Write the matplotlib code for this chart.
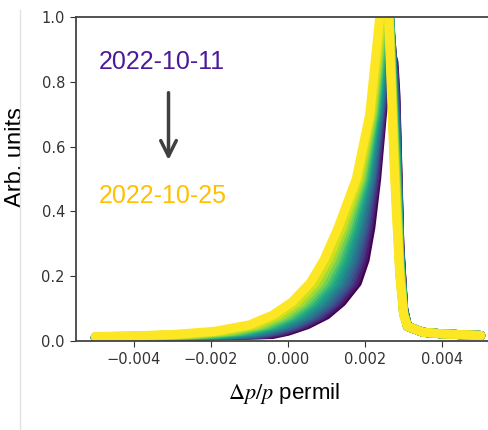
import matplotlib
matplotlib.use('Agg')
from matplotlib import pyplot as plt
from matplotlib.lines import Line2D

plt.rcParams['mathtext.fontset'] = 'stix'

dates = ['2022-10-11', '2022-10-12', '2022-10-13', '2022-10-14', '2022-10-15',
         '2022-10-16', '2022-10-17', '2022-10-18', '2022-10-19', '2022-10-20',
         '2022-10-21', '2022-10-22', '2022-10-23', '2022-10-24', '2022-10-25']

# left tail, dp/p positions and heights per day
tail_x = [-0.005, -0.004]
tail_5 = [0.009, 0.009, 0.010, 0.010, 0.010, 0.011, 0.011, 0.011, 0.012, 0.012, 0.012, 0.013, 0.013, 0.013, 0.014]
tail_4 = [0.010, 0.010, 0.011, 0.011, 0.011, 0.012, 0.012, 0.013, 0.013, 0.014, 0.014, 0.014, 0.015, 0.015, 0.016]

# rising edge: dp/p (units of 1e-5) where each profile crosses these heights
rise_levels = [0.02, 0.03, 0.05, 0.08, 0.12, 0.18, 0.25, 0.35, 0.5, 0.7, 0.85]
rise_1011 = [-40, 0, 50, 100, 140, 180, 200, 215, 230, 245, 260]
rise_1012 = [-56, -11, 41, 92, 132, 173, 194, 210, 227, 243, 258]
rise_1013 = [-71, -23, 32, 83, 124, 165, 187, 205, 224, 241, 256]
rise_1014 = [-87, -34, 23, 75, 117, 158, 181, 200, 220, 239, 254]
rise_1015 = [-102, -46, 14, 66, 109, 151, 174, 195, 217, 237, 252]
rise_1016 = [-121, -59, 4, 57, 100, 142, 167, 189, 214, 235, 249]
rise_1017 = [-139, -72, -7, 47, 91, 134, 159, 183, 210, 233, 247]
rise_1018 = [-157, -86, -18, 37, 82, 125, 152, 177, 206, 230, 244]
rise_1019 = [-175, -99, -28, 27, 72, 117, 144, 171, 202, 228, 242]
rise_1020 = [-193, -112, -39, 17, 63, 108, 137, 165, 199, 226, 239]
rise_1021 = [-212, -125, -49, 8, 54, 100, 129, 159, 195, 223, 237]
rise_1022 = [-230, -139, -60, -2, 45, 91, 122, 153, 191, 221, 234]
rise_1023 = [-251, -154, -72, -13, 35, 81, 113, 146, 187, 218, 232]
rise_1024 = [-274, -171, -85, -26, 23, 70, 104, 139, 182, 215, 229]
rise_1025 = [-300, -190, -100, -40, 10, 58, 93, 130, 177, 212, 225]

# peak position (1e-5) and height per day
peak_x = [270, 269, 268, 267, 266, 265, 264, 263, 262, 261, 260, 259, 258, 257, 255]
peak_y = [0.88, 0.90, 0.92, 0.94, 0.957, 0.979, 1.002, 1.024, 1.046, 1.069, 1.091, 1.114, 1.139, 1.168, 1.20]

# falling edge and right tail
fall_x = [0.00275, 0.0028, 0.0029, 0.003, 0.0031, 0.0035, 0.004, 0.005]
fall_a = [0.86, 0.841, 0.823, 0.804, 0.786, 0.764, 0.742, 0.72, 0.699, 0.677, 0.655, 0.634, 0.609, 0.581, 0.55]
fall_b = [0.76, 0.74, 0.719, 0.699, 0.678, 0.655, 0.631, 0.607, 0.583, 0.559, 0.536, 0.512, 0.485, 0.454, 0.42]
fall_c = [0.30, 0.294, 0.288, 0.282, 0.276, 0.269, 0.262, 0.255, 0.248, 0.241, 0.234, 0.227, 0.219, 0.21, 0.20]
fall_d = [0.10, 0.099, 0.098, 0.096, 0.095, 0.094, 0.092, 0.091, 0.09, 0.088, 0.087, 0.085, 0.084, 0.082, 0.08]
right_tail = [0.045, 0.027, 0.022, 0.017]

rises = [rise_1011, rise_1012, rise_1013, rise_1014, rise_1015, rise_1016,
         rise_1017, rise_1018, rise_1019, rise_1020, rise_1021, rise_1022,
         rise_1023, rise_1024, rise_1025]

fig = plt.figure(figsize=(4.89, 4.30), dpi=100)
# axes runs a little past the right edge, like the cropped original
ax = fig.add_axes([76/489, 89/430, 424/489, 324/430])

cmap = plt.get_cmap('viridis')
n = len(dates)
for i in range(n):
    xs = tail_x + [v * 1e-5 for v in rises[i]] + [peak_x[i] * 1e-5] + fall_x
    ys = ([tail_5[i], tail_4[i]] + rise_levels + [peak_y[i]]
          + [fall_a[i], fall_b[i], fall_c[i], fall_d[i]] + right_tail)
    ax.plot(xs, ys, '-', color=cmap(i/(n-1)), lw=6.5,
            solid_capstyle='round', solid_joinstyle='round', zorder=2+i)

ax.set_xlim(-0.0055, 0.0055)
ax.set_ylim(0, 1.0)
ax.set_xticks([-0.004, -0.002, 0.0, 0.002, 0.004])
ax.set_yticks([0.0, 0.2, 0.4, 0.6, 0.8, 1.0])
ax.tick_params(labelsize=10.5, length=4.5, colors='#333333')
for s in ax.spines.values():
    s.set_color('#444444')
    s.set_linewidth(1.3)
    s.set_zorder(30)

ax.set_xlabel(r'$\Delta p/p$ permil', fontsize=16, family='Liberation Sans')
ax.xaxis.set_label_coords(0.49, -0.125)
ax.set_ylabel('Arb. units', fontsize=17, family='Liberation Sans')
ax.yaxis.set_label_coords(-0.115, 0.568)

ax.text(-0.0049, 0.86, dates[0], color='#4b1a9c', fontsize=18,
        family='Liberation Sans', va='center', ha='left')
ax.text(-0.0049, 0.4475, dates[-1], color='#ffc000', fontsize=18,
        family='Liberation Sans', va='center', ha='left')
ax.annotate('', xy=(-0.0031, 0.55), xytext=(-0.0031, 0.775),
            arrowprops=dict(arrowstyle='->', color='#404040', lw=2.5,
                            mutation_scale=28))

# thin notebook border on the left
fig.add_artist(Line2D([20/489, 20/489], [0, 1 - 10/430], color='#e2e2e2', lw=1))

fig.savefig('out.png', dpi=100)
